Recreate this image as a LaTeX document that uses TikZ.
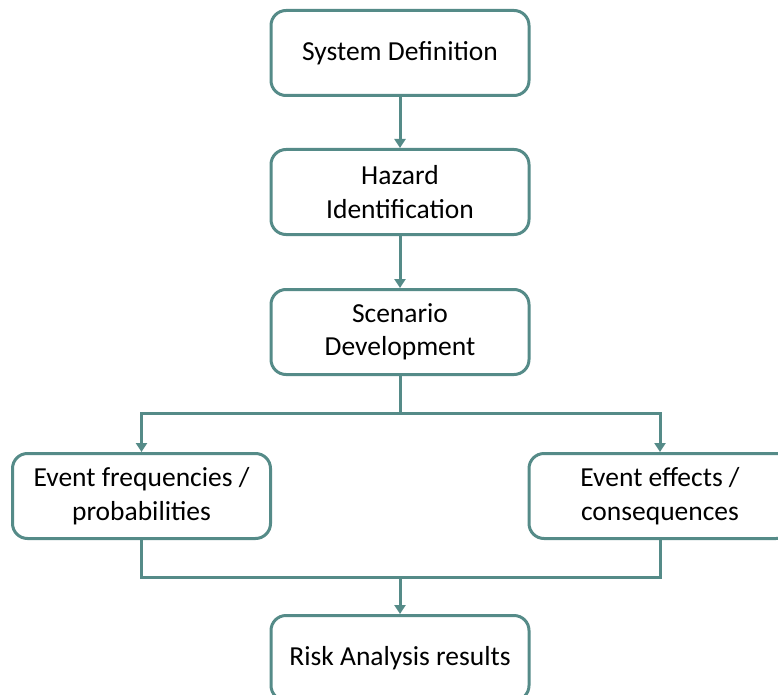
\documentclass[tikz,border=0pt]{standalone}
\usepackage{fontspec}
\setmainfont{Carlito}
\usetikzlibrary{arrows.meta}
\definecolor{teal1}{HTML}{558B88}
\begin{document}
\begin{tikzpicture}[x=1pt,y=-1pt,
  box/.style={draw=teal1, line width=3pt, rounded corners=15pt, fill=white,
    minimum width=258pt, minimum height=85pt, align=center, inner sep=0pt,
    font=\fontsize{27.5}{33.5}\selectfont, text=black},
  conn/.style={draw=teal1, line width=3pt},
  arr/.style={conn, -{Triangle[length=9pt,width=11pt]}}]
\useasboundingbox (0,0) rectangle (778,695);
\node[box] (sys) at (400,53) {System Definition};
\node[box] (haz) at (400,192) {Hazard\\Identification};
\node[box] (scen) at (400,332) {Scenario\\Development};
\node[box] (freq) at (141.5,496) {Event frequencies /\\probabilities};
\node[box, minimum width=262pt] (eff) at (660,496) {Event effects /\\consequences};
\node[box] (risk) at (400,658) {Risk Analysis results};
\coordinate (split) at (400,413);
\coordinate (join) at (400,577);
\draw[arr] (sys) -- (haz);
\draw[arr] (haz) -- (scen);
\draw[conn] (scen) -- (split);
\draw[arr] (split) -| (freq);
\draw[arr] (split) -| (eff);
\draw[conn] (freq) |- (join);
\draw[conn] (eff) |- (join);
\draw[arr] (join) -- (risk);
\end{tikzpicture}
\end{document}
